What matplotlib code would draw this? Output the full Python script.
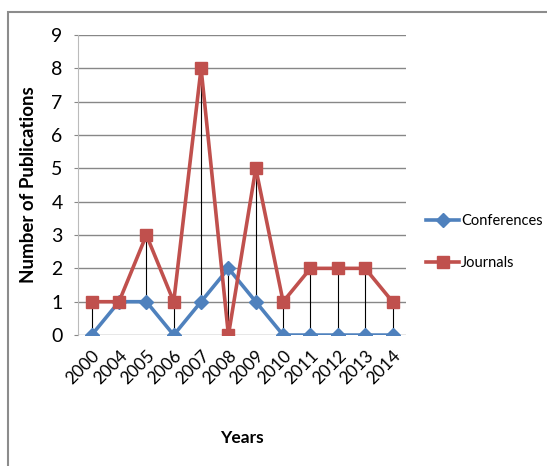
import matplotlib
matplotlib.use("Agg")
import matplotlib.pyplot as plt
from matplotlib.patches import Rectangle

years = ["2000", "2004", "2005", "2006", "2007", "2008", "2009",
         "2010", "2011", "2012", "2013", "2014"]
conferences = [0, 1, 1, 0, 1, 2, 1, 0, 0, 0, 0, 0]
journals = [1, 1, 3, 1, 8, 0, 5, 1, 2, 2, 2, 1]

plt.rcParams["font.family"] = ["Lato", "DejaVu Sans"]

BLUE = "#4F81BD"
RED = "#C0504D"
GRID = "#878787"

fig = plt.figure(figsize=(5.47, 4.66), dpi=100)
ax = fig.add_axes([0.1426, 0.281, 0.6, 0.644])

x = list(range(len(years)))

# high-low lines between the two series
for xi, c, j in zip(x, conferences, journals):
    ax.plot([xi, xi], [min(c, j), max(c, j)], color="black", lw=0.8, zorder=2)

ax.plot(x, conferences, color=BLUE, lw=2.6, marker="D", ms=7,
        label="Conferences", zorder=3)
ax.plot(x, journals, color=RED, lw=2.6, marker="s", ms=8.5,
        label="Journals", zorder=4)

ax.set_xlim(-0.5, len(years) - 0.5)
ax.set_ylim(0, 9)
ax.set_yticks(range(0, 10))
ax.set_xticks(x)
ax.set_xticklabels(years, rotation=45, ha="right", rotation_mode="anchor",
                   fontsize=12.5)
ax.tick_params(axis="y", labelsize=14, length=3, color=GRID, pad=8)
ax.tick_params(axis="x", length=0, pad=9)
ax.grid(axis="y", color=GRID, lw=1)
ax.set_axisbelow(True)
for side in ["top", "right", "bottom"]:
    ax.spines[side].set_visible(False)
ax.spines["left"].set_color("#BBBBBB")

ax.set_ylabel("Number of Publications", fontsize=13.5, fontweight="bold",
              labelpad=10)
ax.set_xlabel("Years", fontsize=12.5, fontweight="bold", labelpad=31)

ax.legend(loc="center left", bbox_to_anchor=(1.02, 0.31), frameon=False,
          fontsize=10.5, handlelength=2.3, handletextpad=0.1, labelspacing=1.9)

fig.patches.append(Rectangle((8 / 547, -0.1), 1.2, 1.1 - 12 / 466,
                             transform=fig.transFigure, fill=False,
                             edgecolor="#8C8C8C", lw=1.5))

fig.savefig("out.png", dpi=100)
